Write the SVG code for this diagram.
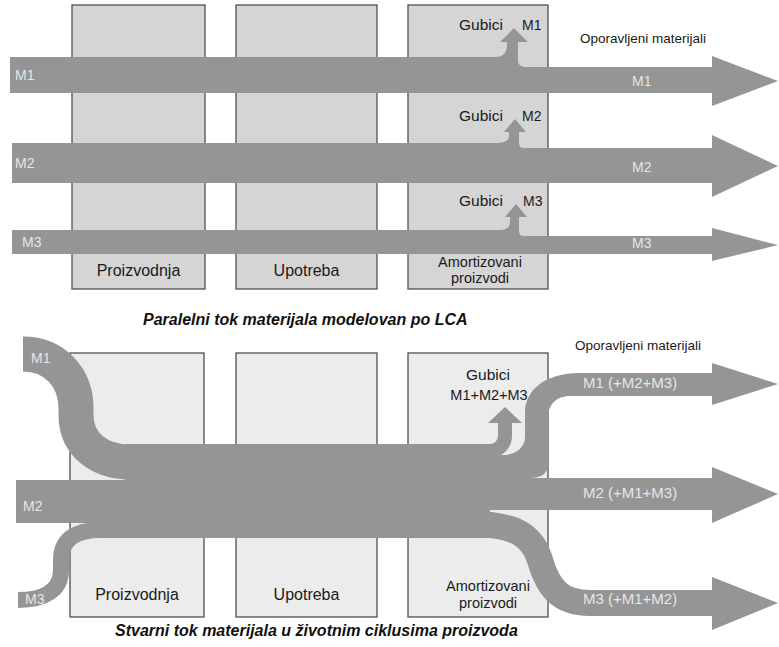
<svg xmlns="http://www.w3.org/2000/svg" width="779" height="647" viewBox="0 0 779 647">
<style>
.bt{fill:#d5d5d5;stroke:#505050;stroke-width:1.3}
.bb{fill:#ececec;stroke:#505050;stroke-width:1.3}
.band{fill:#959595;stroke:none}
.sb{fill:none;stroke:#959595;stroke-linecap:butt}
text{font-family:"Liberation Sans",Arial,sans-serif;fill:#1a1a1a}
.lbl{font-size:16px}
.sm{font-size:14.5px}
.bl{font-size:14px;fill:#e6e6e6}
.bl2{font-size:15px;fill:#e6e6e6}
.cap{font-size:16px;font-weight:bold;font-style:italic;fill:#111}
.op{font-size:13.5px}
</style>
<rect width="779" height="647" fill="#ffffff"/>

<!-- Top panel nodes -->
<g id="top-proizvodnja">
<rect class="bt" x="72" y="5" width="133" height="284"/>
<text class="lbl" x="138.5" y="276" text-anchor="middle">Proizvodnja</text>
</g>
<g id="top-upotreba">
<rect class="bt" x="236" y="5" width="141" height="284"/>
<text class="lbl" x="306.5" y="276" text-anchor="middle">Upotreba</text>
</g>
<g id="top-amortizovani">
<rect class="bt" x="408" y="5" width="140" height="284"/>
<text class="sm" x="480" y="267" text-anchor="middle">Amortizovani</text>
<text class="sm" x="480" y="283" text-anchor="middle">proizvodi</text>
</g>

<!-- Top panel connectors -->
<g id="top-flows">
<path class="band" d="M10,57 L495,57 Q507,57 507,45 L507,42 L500,42 L514,28 L528,42 L518,42 L518,60 Q518,67 525,67 L712,67 L712,56 L778,81 L712,106 L712,93 L10,93 Z"/>
<path class="band" d="M12,143 L497,143 Q509,143 509,136 L509,132 L504,132 L515,119 L526,132 L519,132 L519,143 Q519,148 524,148 L712,148 L712,135 L778,166 L712,197 L712,183 L12,183 Z"/>
<path class="band" d="M12,230 L500,230 Q510,230 510,222 L510,217 L505,217 L516,204 L527,217 L519,217 L519,231 Q519,236 524,236 L712,236 L712,228 L778,245 L712,261 L712,254 L12,254 Z"/>
</g>

<g id="top-labels">
<text x="459" y="30" style="font-size:15.5px">Gubici</text>
<text x="522" y="30" style="font-size:14px">M1</text>
<text x="459" y="121" style="font-size:15.5px">Gubici</text>
<text x="522" y="121" style="font-size:14px">M2</text>
<text x="459" y="206" style="font-size:15.5px">Gubici</text>
<text x="523" y="206" style="font-size:14px">M3</text>
<text class="op" x="580" y="43">Oporavljeni materijali</text>
<text class="bl" x="15" y="80">M1</text>
<text class="bl" x="15" y="168">M2</text>
<text class="bl" x="22" y="247">M3</text>
<text class="bl" x="632" y="86">M1</text>
<text class="bl" x="632" y="172">M2</text>
<text class="bl" x="632" y="248">M3</text>
</g>

<text class="cap" x="143" y="325">Paralelni tok materijala modelovan po LCA</text>

<!-- Bottom panel nodes -->
<g id="bot-proizvodnja">
<rect class="bb" x="70" y="353" width="134" height="264"/>
<text class="lbl" x="137" y="600" text-anchor="middle">Proizvodnja</text>
</g>
<g id="bot-upotreba">
<rect class="bb" x="236" y="353" width="141" height="264"/>
<text class="lbl" x="306.5" y="600" text-anchor="middle">Upotreba</text>
</g>
<g id="bot-amortizovani">
<rect class="bb" x="408" y="353" width="140" height="264"/>
<text class="sm" x="488" y="591" text-anchor="middle">Amortizovani</text>
<text class="sm" x="488" y="608" text-anchor="middle">proizvodi</text>
</g>

<!-- Bottom panel connectors -->
<g id="bot-flows">
<path class="sb" stroke-width="35" d="M23,354 C55,354 76,378 76,408 L76,415 C76,445 100,462 130,462"/>
<rect class="band" x="16" y="480" width="116" height="43"/>
<path class="sb" stroke-width="16" d="M18,600 C45,600 61,590 61,570 L61,560 C61,540 75,530 100,530 L130,530"/>
<rect class="band" x="125" y="444" width="365" height="94"/>
<path class="sb" stroke-width="14" d="M470,451 L490,451 A15,15 0 0 0 505,436 L505,422"/>
<polygon class="band" points="488,423 522,423 505,407"/>
<path class="band" d="M470,454.5 L503,455 C515,455 525,448 525,437 L525,413 C525,390 545,373 580,373 L712,373 L712,363 L778,384 L712,405 L712,396 L570,396 C556,396 548,405 548,418 L548,465 C548,474 540,478 530,478 L470,478 Z"/>
<rect class="band" x="470" y="478" width="243" height="32"/>
<polygon class="band" points="712,467 778,494 712,523"/>
<path class="sb" stroke-width="26" d="M470,524 C515,524 532,535 540,560 C548,588 560,603 590,603 L713,603"/>
<polygon class="band" points="712,577 778,603 712,630"/>
</g>

<g id="bot-labels">
<text x="488" y="380" text-anchor="middle" style="font-size:15.5px">Gubici</text>
<text x="489" y="400" text-anchor="middle" style="font-size:14.5px">M1+M2+M3</text>
<text class="op" x="575" y="350">Oporavljeni materijali</text>
<text class="bl" x="31" y="363">M1</text>
<text class="bl" x="23" y="511">M2</text>
<text class="bl" x="25" y="604">M3</text>
<text class="bl2" x="583" y="388">M1 (+M2+M3)</text>
<text class="bl2" x="583" y="498">M2 (+M1+M3)</text>
<text class="bl2" x="583" y="604">M3 (+M1+M2)</text>
</g>

<text class="cap" x="115" y="636">Stvarni tok materijala u životnim ciklusima proizvoda</text>
</svg>
